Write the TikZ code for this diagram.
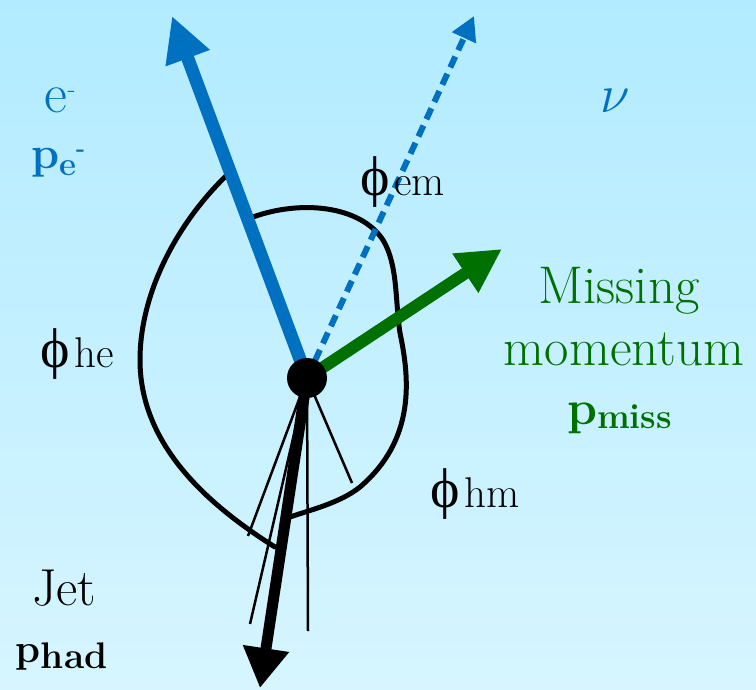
\documentclass[tikz,border=0pt]{standalone}
\usepackage{fontspec}
\newfontfamily\grk{Liberation Serif}
\usetikzlibrary{arrows.meta}
\definecolor{bluee}{RGB}{0,112,192}
\definecolor{greenm}{RGB}{0,112,0}
\definecolor{bgtop}{RGB}{178,235,255}
\definecolor{bgbot}{RGB}{214,245,255}
\begin{document}
\begin{tikzpicture}[x=1pt,y=-1pt,
  fsz/.style={font=\fontsize{#1}{#1}\selectfont},
  lbl/.style={anchor=base west, inner sep=0pt, outer sep=0pt},
  curveline/.style={line width=5pt, line cap=round, line join=round},
  thinline/.style={line width=2.5pt},
  evec/.style={bluee, line width=13pt, -{Triangle[length=45pt,width=44pt]}},
  nuvec/.style={bluee, line width=6pt, dash pattern=on 12pt off 7pt, -{Triangle[length=24pt,width=25pt]}},
  mvec/.style={greenm, line width=12pt, -{Triangle[length=44pt,width=44pt]}},
  jvec/.style={black, line width=11pt, -{Triangle[length=40pt,width=44pt]}}
]
\useasboundingbox (0,0) rectangle (756,689);
\shade[top color=bgtop, bottom color=bgbot] (0,0) rectangle (756,689);

\coordinate (c) at (307,378);
\coordinate (eTip) at (172,16);
\coordinate (nuTip) at (474,16);
\coordinate (mTip) at (502,249);
\coordinate (jTip) at (260,688);
\coordinate (t1) at (248,536);
\coordinate (t2) at (250,624);
\coordinate (t3) at (308,631);
\coordinate (t4) at (352,483);

% angle curves
\draw[curveline] (227,175) .. controls (180,220) and (140,290) .. (140,360)
  .. controls (140,440) and (200,500) .. (275,547);
\draw[curveline] (253,217) .. controls (300,200) and (360,205) .. (383,240)
  .. controls (398,265) and (395,300) .. (400,333)
  .. controls (410,380) and (415,440) .. (360,487)
  .. controls (340,503) and (310,510) .. (290,517);

% jet
\draw[thinline] (c) -- (t1);
\draw[thinline] (c) -- (t2);
\draw[thinline] (c) -- (t3);
\draw[thinline] (c) -- (t4);
\draw[jvec] (c) -- (jTip);

% vectors
\draw[nuvec] (c) -- (nuTip);
\draw[evec] (c) -- (eTip);
\draw[mvec] (c) -- (mTip);

\node[circle, fill=black, minimum size=40pt, inner sep=0pt] (dot) at (c) {};

% labels
\node[lbl, text=bluee, fsz=56] (elab) at (45,112) {e{\fontsize{26}{26}\selectfont\raisebox{15pt}{-}}};
\node[lbl, text=bluee, fsz=45] (pelab) at (31,168) {\bfseries p{\fontsize{33}{33}\selectfont\raisebox{-7pt}{e{\fontsize{24}{24}\selectfont\raisebox{19pt}{-}}}}};
\node[lbl, text=bluee, fsz=20.74] (nulab) at (600,112) {\scalebox{2.6}{$\nu$}};
\node[lbl, fsz=43] (phiem) at (360,195) {{\grk\fontsize{56}{56}\selectfont ϕ}\kern5pt em};
\node[lbl, fsz=43] (phihe) at (40,367) {{\grk\fontsize{56}{56}\selectfont ϕ}\kern5pt he};
\node[lbl, fsz=43] (phihm) at (430,507) {{\grk\fontsize{56}{56}\selectfont ϕ}\kern5pt hm};
\node[anchor=base, inner sep=0pt, text=greenm, fsz=53] (miss1) at (619,303) {Missing};
\node[anchor=base, inner sep=0pt, text=greenm, fsz=53] (miss2) at (624,365) {momentum};
\node[lbl, text=greenm, fsz=48] (pmiss) at (567,424) {\bfseries p{\fontsize{35}{35}\selectfont\raisebox{-4pt}{miss}}};
\node[lbl, fsz=52] (jet) at (32,605) {Jet};
\node[lbl, fsz=40] (phad) at (16,662) {\bfseries p{\fontsize{37}{37}\selectfont\raisebox{-6pt}{had}}};
\end{tikzpicture}
\end{document}
